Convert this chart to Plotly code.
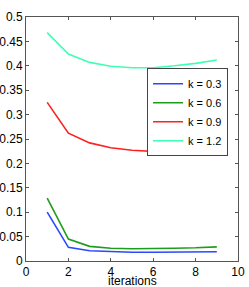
import plotly.graph_objects as go

iterations = [1, 2, 3, 4, 5, 6, 7, 8, 9]
k03 = [0.100, 0.028, 0.021, 0.019, 0.018, 0.018, 0.018, 0.019, 0.019]
k06 = [0.129, 0.045, 0.030, 0.026, 0.025, 0.025, 0.026, 0.027, 0.029]
k09 = [0.325, 0.262, 0.242, 0.232, 0.227, 0.224, 0.222, 0.222, 0.222]
k12 = [0.468, 0.424, 0.407, 0.399, 0.396, 0.396, 0.400, 0.405, 0.412]

names = ["k = 0.3", "k = 0.6", "k = 0.9", "k = 1.2"]
series = [k03, k06, k09, k12]
colors = ["#2a48ff", "#1c9e1c", "#ff2020", "#40ffb4"]

fig = go.Figure()
for n, s, c in zip(names, series, colors):
    fig.add_trace(go.Scatter(x=iterations, y=s, mode="lines", name=n,
                             line=dict(color=c, width=1.6)))

axis_common = dict(showline=True, linecolor="#555", linewidth=1, mirror="ticks",
                   ticks="inside", ticklen=3, tickcolor="#555", showgrid=False,
                   zeroline=False, automargin=False,
                   tickfont=dict(size=12, color="black"))

fig.update_layout(
    width=249, height=287,
    margin=dict(l=26, r=11, t=17, b=26),
    paper_bgcolor="white", plot_bgcolor="white",
    font=dict(family="Liberation Sans, Arial, sans-serif", size=12, color="black"),
    xaxis=dict(range=[0, 10], tickvals=[0, 2, 4, 6, 8, 10], **axis_common),
    yaxis=dict(range=[0, 0.5], tickvals=[0, 0.05, 0.1, 0.15, 0.2, 0.25, 0.3, 0.35, 0.4, 0.45, 0.5],
               ticktext=["0", "0.05", "0.1", "0.15", "0.2", "0.25", "0.3", "0.35", "0.4", "0.45", "0.5"],
               ticklabelstandoff=0,
               **axis_common),
    legend=dict(x=0.953, y=0.79, xanchor="right", yanchor="top",
                bordercolor="#444", borderwidth=1, bgcolor="white",
                font=dict(size=11), tracegroupgap=0, itemwidth=30),
    showlegend=True,
    annotations=[dict(text="iterations", xref="paper", yref="paper", x=0.5, y=-0.084,
                      xanchor="center", yanchor="middle", showarrow=False,
                      font=dict(size=12, color="black"))],
)

fig.write_html("out.html", config={"displayModeBar": False},
               post_script="document.body.style.margin='0';")
